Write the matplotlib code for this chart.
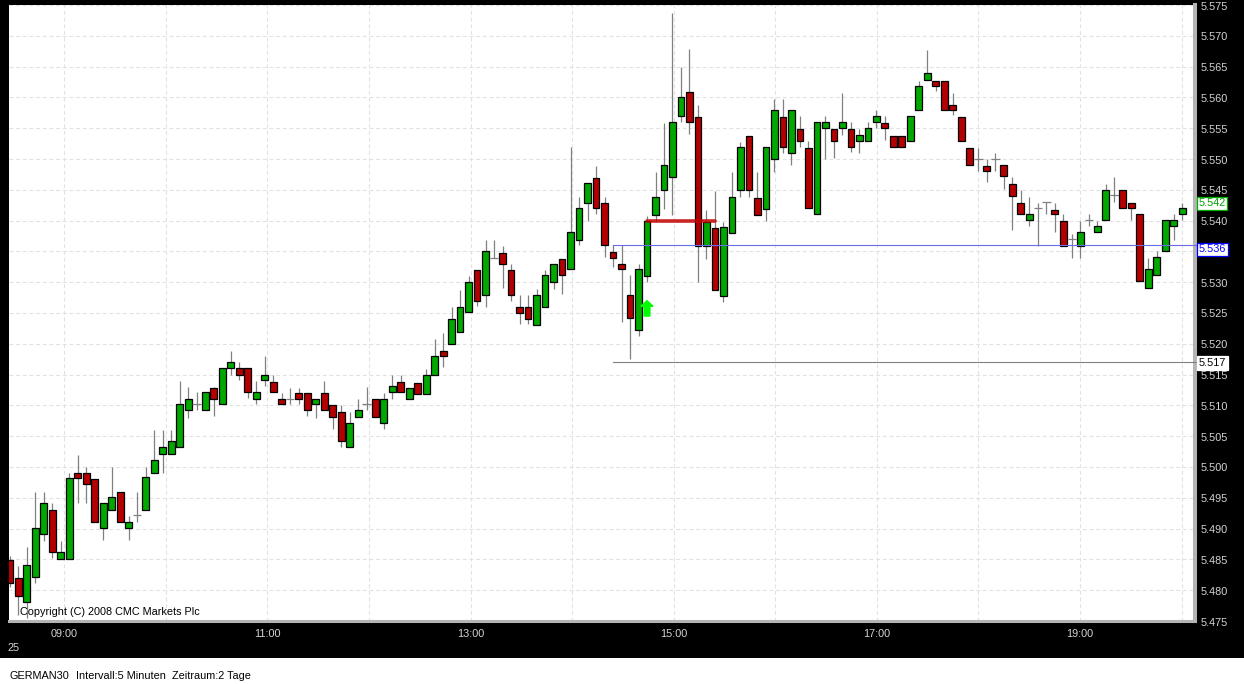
import numpy as np
import matplotlib
matplotlib.use('Agg')
import matplotlib.pyplot as plt
from matplotlib.patches import Rectangle, FancyArrow
from matplotlib import transforms

plt.rcParams['font.family'] = ['Liberation Sans', 'DejaVu Sans']

# GERMAN30, 5 minute candles, index 0 = 08:30, last = 20:00
opens = [5.4849, 5.4820, 5.4781, 5.4821, 5.4891, 5.4930, 5.4850, 5.4850, 5.4990, 5.4990,
         5.4980, 5.4901, 5.4931, 5.4960, 5.4901, 5.4922, 5.4931, 5.4991, 5.5021, 5.5021,
         5.5032, 5.5092, 5.5102, 5.5092, 5.5129, 5.5102, 5.5161, 5.5160, 5.5160, 5.5111,
         5.5141, 5.5138, 5.5110, 5.5111, 5.5120, 5.5120, 5.5102, 5.5120, 5.5100, 5.5090,
         5.5032, 5.5081, 5.5102, 5.5110, 5.5071, 5.5121, 5.5138, 5.5110, 5.5137, 5.5119,
         5.5149, 5.5188, 5.5200, 5.5219, 5.5251, 5.5319, 5.5280, 5.5340, 5.5348, 5.5319,
         5.5259, 5.5259, 5.5231, 5.5260, 5.5301, 5.5338, 5.5321, 5.5369, 5.5429, 5.5469,
         5.5428, 5.5349, 5.5329, 5.5280, 5.5222, 5.5310, 5.5409, 5.5449, 5.5470, 5.5570,
         5.5608, 5.5568, 5.5359, 5.5388, 5.5278, 5.5380, 5.5449, 5.5537, 5.5437, 5.5419,
         5.5500, 5.5568, 5.5509, 5.5549, 5.5518, 5.5411, 5.5550, 5.5549, 5.5550, 5.5549,
         5.5530, 5.5530, 5.5560, 5.5559, 5.5538, 5.5538, 5.5530, 5.5580, 5.5628, 5.5627,
         5.5627, 5.5588, 5.5568, 5.5518, 5.5500, 5.5488, 5.5500, 5.5490, 5.5460, 5.5429,
         5.5401, 5.5421, 5.5430, 5.5418, 5.5399, 5.5370, 5.5359, 5.5401, 5.5381, 5.5401,
         5.5441, 5.5449, 5.5429, 5.5410, 5.5290, 5.5311, 5.5350, 5.5391, 5.5411]
highs = [5.4855, 5.4839, 5.4870, 5.4960, 5.4960, 5.4941, 5.4880, 5.4991, 5.5019, 5.5000,
         5.4980, 5.4941, 5.5000, 5.4960, 5.4921, 5.4960, 5.5000, 5.5060, 5.5060, 5.5060,
         5.5140, 5.5130, 5.5121, 5.5121, 5.5130, 5.5161, 5.5189, 5.5170, 5.5160, 5.5140,
         5.5180, 5.5150, 5.5120, 5.5129, 5.5129, 5.5120, 5.5111, 5.5140, 5.5100, 5.5100,
         5.5090, 5.5110, 5.5130, 5.5110, 5.5120, 5.5150, 5.5150, 5.5129, 5.5137, 5.5159,
         5.5208, 5.5218, 5.5259, 5.5288, 5.5310, 5.5319, 5.5368, 5.5368, 5.5359, 5.5329,
         5.5280, 5.5279, 5.5289, 5.5319, 5.5330, 5.5338, 5.5520, 5.5439, 5.5461, 5.5489,
         5.5439, 5.5360, 5.5360, 5.5312, 5.5330, 5.5408, 5.5479, 5.5559, 5.5737, 5.5649,
         5.5678, 5.5588, 5.5418, 5.5448, 5.5398, 5.5479, 5.5528, 5.5537, 5.5479, 5.5519,
         5.5598, 5.5598, 5.5580, 5.5569, 5.5529, 5.5560, 5.5569, 5.5549, 5.5607, 5.5560,
         5.5549, 5.5560, 5.5579, 5.5569, 5.5538, 5.5538, 5.5570, 5.5627, 5.5677, 5.5627,
         5.5627, 5.5607, 5.5568, 5.5518, 5.5518, 5.5500, 5.5510, 5.5490, 5.5470, 5.5449,
         5.5439, 5.5429, 5.5430, 5.5429, 5.5410, 5.5379, 5.5399, 5.5410, 5.5400, 5.5460,
         5.5471, 5.5449, 5.5429, 5.5410, 5.5340, 5.5350, 5.5401, 5.5410, 5.5429]
lows = [5.4805, 5.4759, 5.4755, 5.4811, 5.4880, 5.4852, 5.4850, 5.4850, 5.4942, 5.4942,
        5.4910, 5.4881, 5.4931, 5.4910, 5.4881, 5.4910, 5.4931, 5.4991, 5.4991, 5.5021,
        5.5032, 5.5080, 5.5092, 5.5092, 5.5082, 5.5102, 5.5150, 5.5142, 5.5112, 5.5102,
        5.5131, 5.5121, 5.5102, 5.5102, 5.5102, 5.5082, 5.5080, 5.5092, 5.5062, 5.5033,
        5.5032, 5.5081, 5.5092, 5.5081, 5.5061, 5.5111, 5.5121, 5.5110, 5.5119, 5.5119,
        5.5149, 5.5162, 5.5200, 5.5219, 5.5251, 5.5261, 5.5260, 5.5340, 5.5291, 5.5270,
        5.5232, 5.5232, 5.5231, 5.5260, 5.5289, 5.5281, 5.5321, 5.5360, 5.5400, 5.5411,
        5.5341, 5.5324, 5.5235, 5.5175, 5.5212, 5.5300, 5.5400, 5.5419, 5.5409, 5.5560,
        5.5540, 5.5301, 5.5338, 5.5288, 5.5268, 5.5380, 5.5439, 5.5439, 5.5409, 5.5400,
        5.5479, 5.5509, 5.5490, 5.5520, 5.5421, 5.5411, 5.5500, 5.5502, 5.5539, 5.5511,
        5.5510, 5.5530, 5.5550, 5.5531, 5.5520, 5.5520, 5.5530, 5.5580, 5.5628, 5.5610,
        5.5580, 5.5571, 5.5530, 5.5490, 5.5480, 5.5462, 5.5480, 5.5452, 5.5384, 5.5411,
        5.5391, 5.5359, 5.5411, 5.5382, 5.5359, 5.5340, 5.5340, 5.5391, 5.5381, 5.5401,
        5.5430, 5.5421, 5.5401, 5.5302, 5.5290, 5.5311, 5.5350, 5.5369, 5.5401]
closes = [5.4811, 5.4790, 5.4841, 5.4901, 5.4941, 5.4862, 5.4862, 5.4982, 5.4982, 5.4972,
          5.4910, 5.4941, 5.4951, 5.4910, 5.4911, 5.4922, 5.4983, 5.5011, 5.5032, 5.5042,
          5.5102, 5.5111, 5.5102, 5.5121, 5.5111, 5.5161, 5.5171, 5.5150, 5.5121, 5.5121,
          5.5150, 5.5121, 5.5102, 5.5111, 5.5111, 5.5092, 5.5111, 5.5092, 5.5081, 5.5042,
          5.5071, 5.5092, 5.5102, 5.5081, 5.5111, 5.5131, 5.5121, 5.5129, 5.5119, 5.5149,
          5.5180, 5.5180, 5.5241, 5.5260, 5.5301, 5.5270, 5.5350, 5.5340, 5.5330, 5.5280,
          5.5250, 5.5241, 5.5280, 5.5311, 5.5330, 5.5311, 5.5381, 5.5420, 5.5461, 5.5420,
          5.5360, 5.5340, 5.5321, 5.5242, 5.5322, 5.5400, 5.5439, 5.5490, 5.5560, 5.5600,
          5.5560, 5.5359, 5.5398, 5.5288, 5.5390, 5.5439, 5.5519, 5.5449, 5.5409, 5.5519,
          5.5580, 5.5519, 5.5580, 5.5530, 5.5421, 5.5560, 5.5560, 5.5530, 5.5560, 5.5520,
          5.5539, 5.5550, 5.5570, 5.5550, 5.5520, 5.5520, 5.5570, 5.5619, 5.5640, 5.5619,
          5.5580, 5.5580, 5.5530, 5.5490, 5.5500, 5.5481, 5.5500, 5.5472, 5.5440, 5.5411,
          5.5411, 5.5421, 5.5430, 5.5411, 5.5359, 5.5370, 5.5381, 5.5401, 5.5391, 5.5450,
          5.5441, 5.5421, 5.5421, 5.5302, 5.5321, 5.5341, 5.5401, 5.5401, 5.5420]

price_ticks = [5.475, 5.480, 5.485, 5.490, 5.495, 5.500, 5.505, 5.510, 5.515, 5.520,
               5.525, 5.530, 5.535, 5.540, 5.545, 5.550, 5.555, 5.560, 5.565, 5.570, 5.575]
# 5.535 is covered by the 5.536 marker box in the original
hidden_tick_labels = [5.535]
hours = [9, 10, 11, 12, 13, 14, 15, 16, 17, 18, 19, 20]
date_label = '25'
info_texts = ['GERMAN30', 'Intervall:5 Minuten', 'Zeitraum:2 Tage']
copyright_text = 'Copyright (C) 2008 CMC Markets Plc'

# markers drawn by the platform
high_mark, low_mark, mark_start = 5.536, 5.517, 71
entry_level, entry_from, entry_to = 5.540, 75, 83
signal_k, signal_tail, signal_tip = 75, 5.5245, 5.5270

# hour lines do not sit exactly on candle centres in the original
first_hour_pos = 6.42
candles_per_hour = 11.955

W, H = 1244, 684
fig = plt.figure(figsize=(W / 100, H / 100), dpi=100, facecolor='black')
fig.patches.append(Rectangle((0, 0), 1, 26 / H, transform=fig.transFigure,
                             facecolor='white', edgecolor='none', zorder=0))

ax = fig.add_axes([9.3 / W, (H - 621) / H, (1195 - 9.3) / W, (621 - 5) / H])
ax.set_facecolor('white')
ax.set_xlim(-0.06, 139.5)
ax.set_ylim(5.475, 5.575)

hour_pos = first_hour_pos + candles_per_hour * (np.array(hours) - 9)
ax.set_xticks(hour_pos)
ax.set_yticks(price_ticks)
ax.tick_params(length=0, labelbottom=False, labelleft=False)
ax.grid(True, color='#e2e2e2', linestyle=(0, (3.5, 2.5)), linewidth=0.8, zorder=0)
ax.set_axisbelow(True)
for side in ['left', 'top']:
    ax.spines[side].set_visible(False)
ax.spines['right'].set_color('#b4b4b4')
ax.spines['right'].set_linewidth(2.9)
ax.spines['bottom'].set_color('#b4b4b4')
ax.spines['bottom'].set_linewidth(2.2)

o = np.array(opens)
h = np.array(highs)
l = np.array(lows)
c = np.array(closes)
k = np.arange(len(o))
bw = 0.8

ax.vlines(k, l, h, color='#808080', linewidth=0.9, zorder=2)
for i in k:
    if abs(c[i] - o[i]) < 0.00005:
        ax.hlines(o[i], i - bw / 2 - 0.1, i + bw / 2 + 0.1, color='#808080', linewidth=0.9, zorder=3)
        continue
    col = '#00a800' if c[i] > o[i] else '#b40000'
    ax.add_patch(Rectangle((i - bw / 2, min(o[i], c[i])), bw, abs(c[i] - o[i]),
                           facecolor=col, edgecolor='black', linewidth=0.9, zorder=3))

xr = ax.get_xlim()[1]
ax.plot([mark_start, xr + 0.4], [high_mark, high_mark], color='#6c6ce6', linewidth=0.8,
        zorder=4, clip_on=False)
ax.plot([mark_start, xr + 0.4], [low_mark, low_mark], color='#808080', linewidth=0.8,
        zorder=4, clip_on=False)
ax.plot([entry_from, entry_to], [entry_level, entry_level], color='#c00000', alpha=0.85,
        linewidth=2.6, solid_capstyle='round', zorder=5)
ax.add_patch(FancyArrow(signal_k, signal_tail, 0, signal_tip - signal_tail, width=0.68,
                        head_width=1.45, head_length=0.00092, length_includes_head=True,
                        color='#00ff00', zorder=5))

fs = 7.8
ytr = transforms.blended_transform_factory(fig.transFigure, ax.transData)
ytr = transforms.offset_copy(ytr, fig=fig, y=-1.5, units='dots')
for p in price_ticks:
    if p in hidden_tick_labels:
        continue
    fig.text(1200.7 / W, p, '%.3f' % p, transform=ytr, ha='left', va='center',
             color='#d4d4d4', fontsize=fs)

atr = transforms.blended_transform_factory(ax.transAxes, ax.transData)
boxes = [(closes[-1], '#00a000', '#00b000', 4.8),
         (high_mark, '#0000ff', '#0000ff', -3.9),
         (low_mark, 'black', 'white', -0.8)]
for val, tcol, ecol, dy in boxes:
    ax.annotate('%.3f' % val, xy=(1.0, val), xycoords=atr, xytext=(3.5, dy),
                textcoords='offset pixels', ha='left', va='center', color=tcol, fontsize=fs,
                bbox=dict(boxstyle='square,pad=0.15', facecolor='white', edgecolor=ecol,
                          linewidth=0.9), annotation_clip=False, zorder=10)

xtr = transforms.blended_transform_factory(ax.transData, fig.transFigure)
for hr, pos in zip(hours, hour_pos):
    if hr % 2 == 1:
        fig.text(pos, (H - 633.7) / H, '%02d:00' % hr, transform=xtr, ha='center', va='center',
                 color='#d4d4d4', fontsize=fs)
fig.text(13.8 / W, (H - 648) / H, date_label, ha='center', va='center', color='#d4d4d4', fontsize=fs)

fig.text(20 / W, (H - 611.7) / H, copyright_text, ha='left', va='center', color='black',
         fontsize=fs, zorder=10)
for x, t in zip([10, 76, 172.3], info_texts):
    fig.text(x / W, (H - 675.7) / H, t, ha='left', va='center', color='black', fontsize=fs)

fig.savefig('out.png', dpi=100, facecolor='black')
